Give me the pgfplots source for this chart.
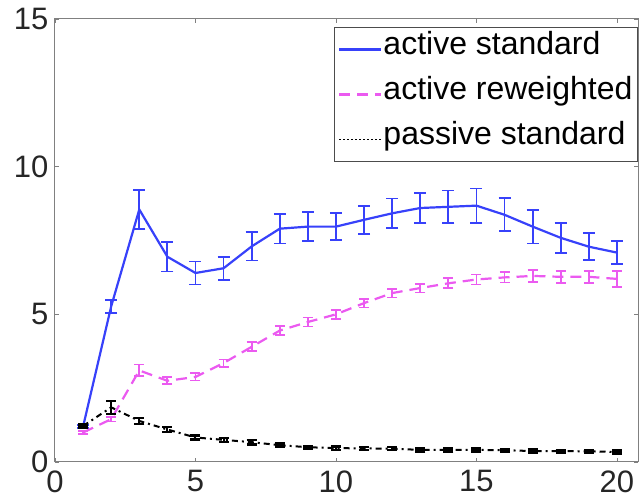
\documentclass[border=0pt]{standalone}
\usepackage{fontspec}
\setmainfont{Liberation Sans}
\usepackage{pgfplots}
\pgfplotsset{compat=1.18}
\definecolor{cblue}{RGB}{55,65,250}
\definecolor{cmag}{RGB}{235,90,240}
\definecolor{cgray}{RGB}{128,128,128}
\pgfplotstableread{
x y e
1 1.2 0.05
2 5.27 0.22
3 8.55 0.65
4 6.95 0.5
5 6.4 0.39
6 6.56 0.39
7 7.3 0.48
8 7.9 0.5
9 7.97 0.5
10 7.97 0.46
11 8.2 0.48
12 8.42 0.5
13 8.6 0.5
14 8.64 0.55
15 8.68 0.58
16 8.37 0.56
17 7.97 0.57
18 7.59 0.5
19 7.29 0.46
20 7.09 0.39
}\tblue
\pgfplotstableread{
x y e
1 1.0 0.05
2 1.45 0.08
3 3.1 0.2
4 2.75 0.12
5 2.88 0.12
6 3.35 0.12
7 3.9 0.15
8 4.45 0.15
9 4.74 0.15
10 5.0 0.15
11 5.38 0.15
12 5.72 0.15
13 5.89 0.15
14 6.05 0.17
15 6.18 0.17
16 6.25 0.17
17 6.3 0.2
18 6.27 0.2
19 6.27 0.2
20 6.2 0.28
}\tmagenta
\pgfplotstableread{
x y e
1 1.22 0.05
2 1.85 0.22
3 1.39 0.1
4 1.1 0.08
5 0.83 0.06
6 0.75 0.07
7 0.67 0.07
8 0.57 0.05
9 0.5 0.04
10 0.47 0.06
11 0.46 0.05
12 0.45 0.05
13 0.41 0.05
14 0.41 0.05
15 0.41 0.05
16 0.4 0.04
17 0.37 0.05
18 0.37 0.04
19 0.36 0.04
20 0.34 0.05
}\tblack
\begin{document}
\begin{tikzpicture}
\useasboundingbox (-55pt,-38pt) rectangle (585pt,462pt);
\begin{axis}[
  at={(0,0)}, anchor=south west,
  scale only axis, width=583pt, height=443pt,
  xmin=0, xmax=20.75, ymin=0, ymax=15,
  xtick={0,5,10,15,20}, ytick={0,5,10,15},
  tick align=inside, major tick length=4pt,
  axis line style={cgray, line width=1pt},
  tick style={cgray, line width=0.8pt},
  font=\fontsize{31}{35}\selectfont,
  tick label style={font=\fontsize{31}{35}\selectfont, text=black!85},
  xticklabel style={yshift=-5pt},
  yticklabel style={xshift=-3pt},
  /pgf/number format/assume math mode=true,
  legend style={at={(1,0.982)}, anchor=north east, draw=black!70, line width=1pt,
    fill=white, font=\fontsize{32}{36}\selectfont, inner xsep=4pt, inner ysep=5pt,
    row sep=11pt, nodes={inner sep=1pt, text height=21pt, text depth=11pt}},
  legend cell align=left,
  legend image code/.code={\draw[#1] plot coordinates {(0pt,0pt) (42pt,0pt)};},
]
\addplot[cblue, line width=2.2pt,
  error bars/.cd, y dir=both, y explicit,
  error bar style={line width=1.8pt, solid},
  error mark options={rotate=90, mark size=6pt, line width=1.8pt, solid}]
  table[x=x, y=y, y error=e] {\tblue};
\addlegendentry{active standard}
\addplot[cmag, line width=2.2pt, dash pattern=on 11pt off 7pt,
  error bars/.cd, y dir=both, y explicit,
  error bar style={line width=1.8pt, solid},
  error mark options={rotate=90, mark size=5pt, line width=1.8pt, solid}]
  table[x=x, y=y, y error=e] {\tmagenta};
\addlegendentry{active reweighted}
\addplot[black, line width=2pt, dash pattern=on 6pt off 4pt on 2pt off 4pt,
  legend image post style={line width=1.2pt, dash pattern=on 1.5pt off 2.5pt},
  error bars/.cd, y dir=both, y explicit,
  error bar style={line width=2pt, solid},
  error mark options={rotate=90, mark size=5pt, line width=2.5pt, solid}]
  table[x=x, y=y, y error=e] {\tblack};
\addlegendentry{passive standard}
\end{axis}
\end{tikzpicture}
\end{document}
